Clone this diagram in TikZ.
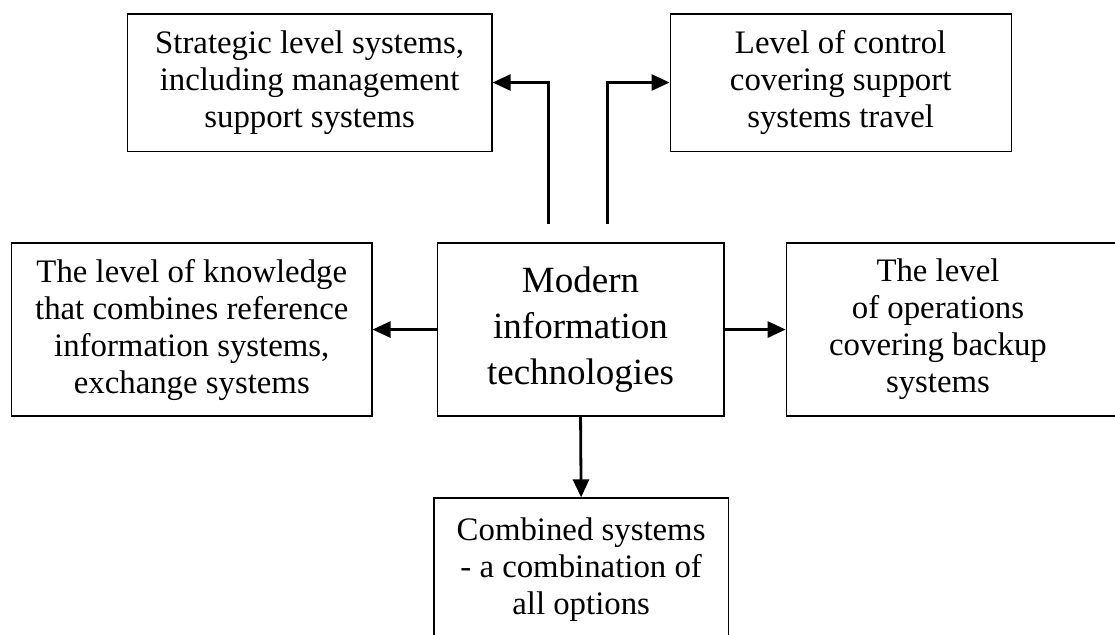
\documentclass[tikz,border=0pt]{standalone}
\usepackage{fontspec}
\setmainfont{Liberation Serif}
\usetikzlibrary{arrows.meta}

\tikzset{
  blocktext/.style={align=center, font=\fontsize{16.4}{18.5}\selectfont},
  block/.style={draw, line width=0.6pt, inner sep=0pt, blocktext},
  link/.style={line width=1.4pt, -{Triangle[length=9pt,width=8pt]}}
}

\begin{document}
\begin{tikzpicture}
        \useasboundingbox (0,0) rectangle (19.59,11.14);
        % upper row
        \node[block, minimum width=6.41cm, minimum height=2.41cm] (strat) at (5.44,9.69)
            {Strategic level systems,\\including management\\support systems};
        \node[block, minimum width=5.99cm, minimum height=2.41cm] (ctrl) at (14.77,9.69)
            {Level of control\\covering support\\systems travel};
        % middle row
        \node[block, minimum width=6.33cm, minimum height=3.04cm] (know) at (3.37,5.35)
            {The level of knowledge\\that combines reference\\information systems,\\exchange systems};
        \node[block, minimum width=5.04cm, minimum height=3.04cm,
              font=\fontsize{18.5}{23}\selectfont] (mit) at (10.20,5.35)
            {Modern\\information\\technologies};
        \node[block, minimum width=6.13cm, minimum height=3.04cm,
              label={[blocktext, xshift=-0.4cm]center:{The level\\of operations\\covering backup\\systems}}]
            (oper) at (16.88,5.35) {};
        % lower box
        \node[block, minimum width=5.17cm, minimum height=2.5cm] (comb) at (10.21,1.14)
            {Combined systems\\- a combination of\\all options};
        % connectors
        \draw[link] ([xshift=-0.57cm,yshift=0.32cm]mit.north) |- (strat.east);
        \draw[link] ([xshift=0.48cm,yshift=0.32cm]mit.north) |- (ctrl.west);
        \draw[link] (mit.west) -- (know.east);
        \draw[link] (mit.east) -- (oper.west);
        \draw[link] (mit.south) -- (comb.north);
\end{tikzpicture}
\end{document}
